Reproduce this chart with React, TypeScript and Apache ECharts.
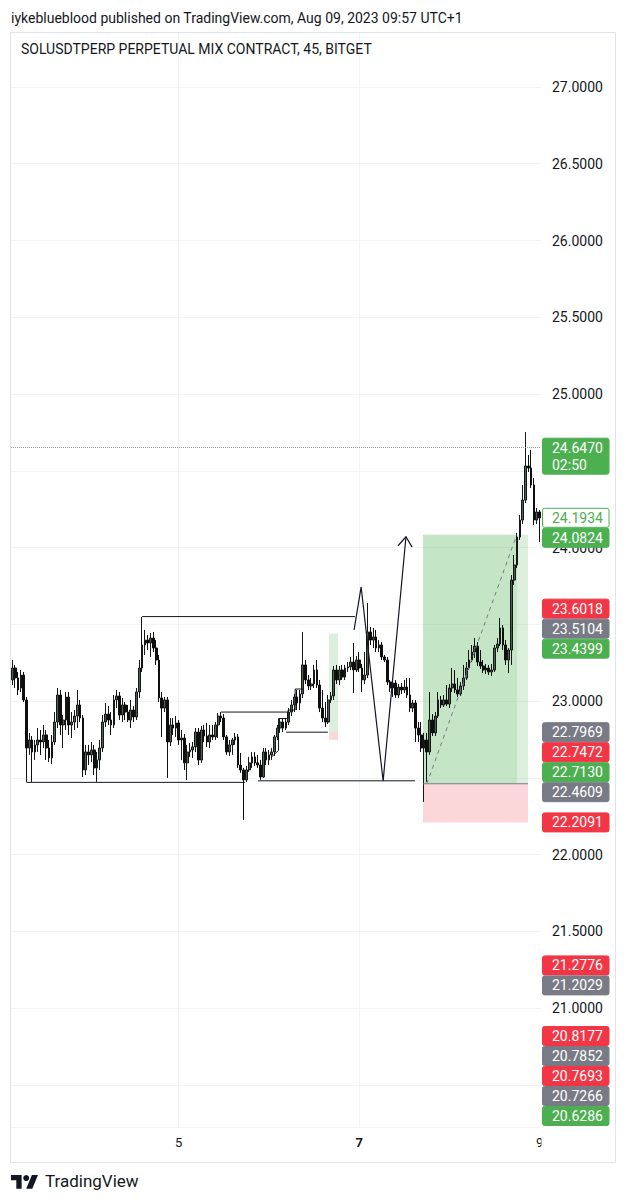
import React, { useEffect, useRef } from 'react';
import * as echarts from 'echarts';

// ---------- x categories: 45-minute candles starting Aug 3 03:45 ----------
const START_UTC = Date.UTC(2023, 7, 3, 3, 45);
const STEP_MINUTES = 45;
const CANDLE_COUNT = 188;
const categories: string[] = [];
for (let i = 0; i < CANDLE_COUNT; i++) {
  const d = new Date(START_UTC + i * STEP_MINUTES * 60000);
  categories.push(
    `Aug ${d.getUTCDate()} ${String(d.getUTCHours()).padStart(2, '0')}:${String(d.getUTCMinutes()).padStart(2, '0')}`
  );
}
const dayTickIndices = [59, 123, 187];
const dayTickLabels = ['5', '7', '9'];
const dayTickBold = [false, true, false];

// ---------- OHLC values ----------
const open = [
  23.137, 23.215, 23.150, 23.085, 23.169, 23.007, 22.694, 22.746, 22.668, 22.714,
  22.746, 22.733, 22.779, 22.694, 22.629, 22.733, 22.863, 23.039, 22.844, 22.876,
  23.026, 22.844, 22.863, 22.902, 22.974, 22.889, 22.551, 22.668, 22.649, 22.681,
  22.564, 22.616, 22.694, 22.863, 22.915, 22.876, 22.844, 23.007, 23.033, 22.909,
  22.974, 22.928, 22.876, 22.941, 22.896, 23.059, 23.215, 23.365, 23.397, 23.378,
  23.410, 23.345, 23.267, 23.020, 22.954, 23.007, 22.733, 22.844, 22.824, 22.857,
  22.746, 22.759, 22.597, 22.668, 22.681, 22.701, 22.798, 22.616, 22.811, 22.772,
  22.733, 22.779, 22.766, 22.844, 22.902, 22.889, 22.766, 22.668, 22.714, 22.746,
  22.766, 22.583, 22.551, 22.486, 22.551, 22.597, 22.636, 22.597, 22.583, 22.505,
  22.668, 22.616, 22.649, 22.668, 22.766, 22.824, 22.863, 22.824, 22.863, 22.928,
  22.974, 23.026, 22.987, 23.046, 23.235, 23.137, 23.098, 23.111, 23.202, 23.104,
  22.954, 22.889, 22.863, 23.007, 23.033, 23.202, 23.137, 23.202, 23.156, 23.215,
  23.222, 23.254, 23.202, 23.267, 23.215, 23.137, 23.169, 23.450, 23.397, 23.417,
  23.345, 23.365, 23.287, 23.267, 23.124, 23.085, 23.117, 23.039, 23.091, 23.072,
  23.091, 23.039, 22.954, 22.987, 22.824, 22.779, 22.694, 22.746, 22.668, 22.876,
  22.792, 22.902, 23.007, 22.974, 23.007, 22.980, 23.085, 23.111, 23.072, 23.046,
  23.098, 23.150, 23.215, 23.267, 23.319, 23.358, 23.254, 23.228, 23.202, 23.215,
  23.189, 23.202, 23.345, 23.371, 23.476, 23.365, 23.267, 23.332, 23.788, 23.886,
  24.068, 24.179, 24.309, 24.531, 24.518, 24.407, 24.179, 24.231,
];
const close = [
  23.215, 23.150, 23.072, 23.169, 23.007, 22.694, 22.746, 22.668, 22.714, 22.746,
  22.733, 22.779, 22.694, 22.629, 22.733, 22.863, 23.039, 22.844, 22.876, 23.026,
  22.844, 22.863, 22.902, 22.974, 22.889, 22.551, 22.668, 22.649, 22.681, 22.564,
  22.616, 22.694, 22.863, 22.915, 22.876, 22.844, 23.007, 23.033, 22.909, 22.974,
  22.928, 22.876, 22.941, 22.896, 23.059, 23.215, 23.365, 23.397, 23.378, 23.410,
  23.345, 23.267, 23.020, 22.954, 23.007, 22.733, 22.844, 22.824, 22.857, 22.746,
  22.759, 22.597, 22.668, 22.681, 22.701, 22.798, 22.616, 22.811, 22.772, 22.733,
  22.779, 22.766, 22.844, 22.902, 22.889, 22.766, 22.668, 22.714, 22.746, 22.766,
  22.583, 22.551, 22.486, 22.551, 22.597, 22.636, 22.597, 22.583, 22.505, 22.668,
  22.616, 22.649, 22.668, 22.766, 22.824, 22.863, 22.824, 22.863, 22.928, 22.974,
  23.026, 22.987, 23.046, 23.235, 23.137, 23.098, 23.111, 23.202, 23.104, 22.954,
  22.889, 22.863, 23.007, 23.033, 23.202, 23.137, 23.202, 23.156, 23.215, 23.222,
  23.254, 23.202, 23.267, 23.215, 23.137, 23.169, 23.450, 23.397, 23.417, 23.345,
  23.365, 23.287, 23.267, 23.124, 23.085, 23.117, 23.039, 23.091, 23.072, 23.091,
  23.039, 22.954, 22.987, 22.824, 22.779, 22.694, 22.746, 22.668, 22.876, 22.792,
  22.902, 23.007, 22.974, 23.007, 22.980, 23.085, 23.111, 23.072, 23.046, 23.098,
  23.150, 23.215, 23.267, 23.319, 23.358, 23.254, 23.228, 23.202, 23.215, 23.189,
  23.202, 23.345, 23.371, 23.476, 23.365, 23.267, 23.332, 23.788, 23.886, 24.068,
  24.179, 24.309, 24.531, 24.518, 24.407, 24.179, 24.231, 24.192,
];
const low = [
  23.104, 23.085, 23.039, 23.059, 22.994, 22.473, 22.649, 22.473, 22.616, 22.668,
  22.649, 22.694, 22.616, 22.603, 22.590, 22.714, 22.824, 22.779, 22.694, 22.811,
  22.779, 22.759, 22.811, 22.824, 22.863, 22.505, 22.518, 22.583, 22.603, 22.518,
  22.473, 22.551, 22.668, 22.831, 22.844, 22.779, 22.824, 22.954, 22.876, 22.863,
  22.876, 22.863, 22.824, 22.863, 22.876, 23.020, 23.189, 23.300, 23.332, 23.287,
  23.319, 23.235, 22.994, 22.766, 22.928, 22.499, 22.707, 22.779, 22.766, 22.714,
  22.616, 22.551, 22.486, 22.636, 22.629, 22.668, 22.583, 22.597, 22.733, 22.701,
  22.694, 22.746, 22.746, 22.759, 22.863, 22.746, 22.649, 22.642, 22.649, 22.714,
  22.564, 22.532, 22.226, 22.473, 22.538, 22.564, 22.577, 22.564, 22.486, 22.499,
  22.583, 22.583, 22.616, 22.642, 22.746, 22.792, 22.798, 22.811, 22.844, 22.902,
  22.928, 22.941, 22.941, 23.020, 23.111, 23.072, 23.072, 23.085, 23.085, 22.928,
  22.863, 22.831, 22.850, 22.987, 23.007, 23.111, 23.104, 23.137, 23.137, 23.189,
  23.202, 23.052, 23.189, 23.189, 23.059, 23.111, 23.150, 23.365, 23.345, 23.319,
  23.319, 23.267, 23.254, 23.104, 23.059, 23.026, 23.020, 23.020, 23.046, 23.052,
  23.020, 22.928, 22.928, 22.733, 22.733, 22.668, 22.343, 22.473, 22.649, 22.772,
  22.772, 22.889, 22.954, 22.961, 22.967, 22.954, 23.059, 23.052, 23.026, 23.033,
  23.072, 23.137, 23.202, 23.254, 23.280, 23.228, 23.209, 23.182, 23.176, 23.169,
  23.163, 23.189, 23.319, 23.358, 23.332, 23.235, 23.182, 23.235, 23.756, 23.866,
  24.049, 24.153, 24.290, 24.492, 24.388, 24.147, 24.153, 24.036,
];
const high = [
  23.267, 23.235, 23.189, 23.202, 23.189, 23.026, 22.792, 22.772, 22.746, 22.824,
  22.811, 22.844, 22.811, 22.746, 22.779, 22.928, 23.085, 23.072, 22.909, 23.059,
  23.059, 22.928, 22.941, 23.072, 23.007, 22.909, 22.714, 22.714, 22.733, 22.714,
  22.668, 22.746, 22.909, 22.987, 22.967, 22.928, 23.039, 23.072, 23.059, 23.020,
  22.994, 22.974, 23.007, 22.967, 23.085, 23.267, 23.547, 23.463, 23.430, 23.443,
  23.450, 23.397, 23.300, 23.059, 23.026, 23.026, 22.889, 22.889, 22.902, 22.876,
  22.811, 22.785, 22.714, 22.727, 22.733, 22.824, 22.824, 22.837, 22.844, 22.857,
  22.844, 22.844, 22.863, 22.922, 22.928, 22.915, 22.779, 22.746, 22.759, 22.792,
  22.785, 22.662, 22.564, 22.577, 22.636, 22.668, 22.668, 22.649, 22.616, 22.694,
  22.694, 22.681, 22.694, 22.779, 22.844, 22.889, 22.889, 22.889, 22.954, 23.007,
  23.046, 23.072, 23.072, 23.450, 23.267, 23.169, 23.150, 23.235, 23.267, 23.137,
  23.072, 22.994, 23.039, 23.059, 23.228, 23.235, 23.228, 23.235, 23.235, 23.254,
  23.287, 23.378, 23.293, 23.319, 23.241, 23.319, 23.638, 23.482, 23.476, 23.463,
  23.397, 23.384, 23.300, 23.287, 23.137, 23.137, 23.137, 23.111, 23.117, 23.137,
  23.150, 23.150, 23.007, 23.007, 22.863, 22.863, 22.792, 22.792, 23.059, 22.915,
  22.928, 23.059, 23.033, 23.039, 23.104, 23.111, 23.215, 23.202, 23.150, 23.124,
  23.235, 23.254, 23.332, 23.365, 23.410, 23.384, 23.332, 23.267, 23.241, 23.235,
  23.241, 23.365, 23.410, 23.541, 23.495, 23.397, 23.345, 23.821, 23.951, 24.095,
  24.212, 24.407, 24.752, 24.603, 24.635, 24.453, 24.257, 24.244,
];

// ---------- price axis range ----------
const Y_MIN = 20.2248;
const Y_MAX = 27.3583;
const LAST_PRICE = 24.647;

// ---------- drawings (candle index, price) ----------
const supportLines = [
  [5, 82.5, 22.47],
  [87.1, 142.8, 22.48],
];
const resistanceLine = [46, 121.5, 23.55];
const midLine = [74, 97.8, 22.928];
const miniEntryLine = [97.1, 111.9, 22.7969];
const stairPath = [
  [91.7, 22.632], [94.4, 22.678], [94.4, 22.886], [97.8, 22.886],
  [97.8, 22.941], [100.3, 22.941], [100.3, 23.078], [103.4, 23.078],
];
const zigzagPath = [
  [121.2, 23.463], [123.7, 23.743], [131.5, 22.479], [139.6, 24.07],
];
const longPosition = { left: 145.65, right: 182.9, filledTo: 179.0, entry: 22.4609, target: 24.0824, stop: 22.2091 };
const longDiagonal = [[147.0, 22.4609], [178.9, 24.0824]];
const miniPosition = { left: 112.3, right: 115.5, entry: 22.7969, target: 23.4399, stop: 22.7472 };

// ---------- price tags on the axis ----------
const tagPrices = [24.647, 24.1934, 24.0824, 23.6018, 23.5104, 23.4399, 22.7969, 22.7472, 22.713, 22.4609, 22.2091, 21.2776, 21.2029, 20.8177, 20.7852, 20.7693, 20.7266, 20.6286];
const tagKinds = ['green', 'outline', 'green', 'red', 'grey', 'green', 'grey', 'red', 'green', 'grey', 'red', 'red', 'grey', 'red', 'grey', 'red', 'grey', 'green'];
const tagSubtexts = ['02:50'];

const TV_LOGO_PATH = 'M14 22H7V11H0V4h14v18zM28 22h-8l7.5-18h8L28 22z';
echarts.graphic.registerShape('tvlogo', echarts.graphic.extendPath(TV_LOGO_PATH, {}));

const TEXT = '#131722';
const GREEN = '#4caf50';
const RED = '#f23645';
const GREY = '#787b86';
const GRID_LINE = '#f0f3fa';

function buildOption() {
  const candleData = open.map((o, i) => [o, close[i], low[i], high[i]]);
  return {
    animation: false,
    backgroundColor: '#ffffff',
    grid: { left: 11, right: 86, top: 32, bottom: 73, containLabel: false },
    xAxis: {
      type: 'category',
      data: categories,
      boundaryGap: true,
      axisLine: { show: false },
      axisTick: { show: false },
      axisLabel: {
        interval: (i: number) => dayTickIndices.includes(i),
        formatter: (_v: string, i: number) => {
          const k = dayTickIndices.indexOf(i);
          if (k < 0) return '';
          return dayTickBold[k] ? `{b|${dayTickLabels[k]}}` : dayTickLabels[k];
        },
        color: TEXT,
        fontSize: 13,
        fontFamily: 'Roboto',
        margin: 9,
        rich: { b: { fontWeight: 'bold', fontSize: 13, fontFamily: 'Roboto', color: TEXT } },
      },
      splitLine: {
        show: true,
        alignWithLabel: true,
        interval: (i: number) => i === dayTickIndices[0] || i === dayTickIndices[1],
        lineStyle: { color: GRID_LINE, width: 1 },
      },
    },
    yAxis: {
      type: 'value',
      position: 'right',
      min: Y_MIN,
      max: Y_MAX,
      splitNumber: 14,
      minInterval: 0.5,
      maxInterval: 0.5,
      scale: true,
      axisLine: { show: false },
      axisTick: { show: false },
      axisLabel: {
        showMinLabel: false,
        showMaxLabel: false,
        formatter: (v: number) => v.toFixed(4),
        color: TEXT,
        fontSize: 14,
        fontFamily: 'Roboto',
        margin: 11,
      },
      splitLine: { show: true, lineStyle: { color: GRID_LINE, width: 1 } },
    },
    series: [
      {
        type: 'candlestick',
        data: candleData,
        barWidth: 2.2,
        itemStyle: {
          color: '#4f5e52',
          color0: '#0e0e0e',
          borderColor: '#151815',
          borderColor0: '#0e0e0e',
          borderWidth: 1,
        },
        markLine: {
          silent: true,
          symbol: 'none',
          label: { show: false },
          lineStyle: { type: 'dotted', color: '#9598a1', width: 1 },
          data: [{ yAxis: LAST_PRICE }],
        },
      },
    ],
  };
}

function layoutTags(Y: (p: number) => number) {
  let prevBottom = -Infinity;
  return tagPrices.map((price, k) => {
    const sub = tagSubtexts[k];
    const py = Y(price);
    const h = sub ? 36 : 19;
    let top = sub ? py - 10 : py - 9.5;
    if (top < prevBottom + 1) top = prevBottom + 1;
    prevBottom = top + h;
    return { price, sub, top, h, kind: tagKinds[k] };
  });
}

function buildGraphics(chart: any, tags: any[]) {
  const xa = chart.convertToPixel({ xAxisIndex: 0 }, 0) as number;
  const xb = chart.convertToPixel({ xAxisIndex: 0 }, 1) as number;
  const X = (i: number) => xa + i * (xb - xa);
  const Y = (p: number) => chart.convertToPixel({ yAxisIndex: 0 }, p) as number;
  const g: any[] = [];

  const hline = (a: number, b: number, p: number, stroke: string, z = 4) =>
    g.push({ type: 'line', silent: true, z, shape: { x1: X(a), y1: Y(p), x2: X(b), y2: Y(p) }, style: { stroke, lineWidth: 1 } });
  const box = (a: number, b: number, pTop: number, pBottom: number, fill: string) =>
    g.push({ type: 'rect', silent: true, z: 1, shape: { x: X(a), y: Y(pTop), width: X(b) - X(a), height: Y(pBottom) - Y(pTop) }, style: { fill } });

  // position tools
  box(longPosition.left, longPosition.filledTo, longPosition.target, longPosition.entry, 'rgba(76,175,80,0.32)');
  box(longPosition.filledTo, longPosition.right, longPosition.target, longPosition.entry, 'rgba(76,175,80,0.2)');
  box(longPosition.left, longPosition.right, longPosition.entry, longPosition.stop, 'rgba(242,54,69,0.2)');
  hline(longPosition.left, longPosition.right, longPosition.entry, GREY, 3);
  g.push({
    type: 'line', silent: true, z: 3,
    shape: { x1: X(longDiagonal[0][0]), y1: Y(longDiagonal[0][1]), x2: X(longDiagonal[1][0]), y2: Y(longDiagonal[1][1]) },
    style: { stroke: GREY, lineWidth: 1, lineDash: [4, 4] },
  });
  box(miniPosition.left, miniPosition.right, miniPosition.target, miniPosition.entry, 'rgba(76,175,80,0.2)');
  box(miniPosition.left, miniPosition.right, miniPosition.entry, miniPosition.stop, 'rgba(242,54,69,0.2)');

  // horizontal drawings
  supportLines.forEach(([a, b, p]) => hline(a, b, p, TEXT));
  hline(resistanceLine[0], resistanceLine[1], resistanceLine[2], TEXT);
  hline(midLine[0], midLine[1], midLine[2], TEXT);
  hline(miniEntryLine[0], miniEntryLine[1], miniEntryLine[2], TEXT);

  g.push({ type: 'polyline', silent: true, z: 4, shape: { points: stairPath.map(([i, p]) => [X(i), Y(p)]) }, style: { stroke: TEXT, lineWidth: 1, fill: 'none' } });
  const zz = zigzagPath.map(([i, p]) => [X(i), Y(p)]);
  g.push({ type: 'polyline', silent: true, z: 4, shape: { points: zz }, style: { stroke: TEXT, lineWidth: 1.2, fill: 'none' } });
  // arrow head at the end of zigzag
  const tip = zz[zz.length - 1];
  const prev = zz[zz.length - 2];
  const dx = prev[0] - tip[0];
  const dy = prev[1] - tip[1];
  const len = Math.hypot(dx, dy);
  const ux = dx / len, uy = dy / len;
  const rot = (a: number) => [tip[0] + 12 * (ux * Math.cos(a) - uy * Math.sin(a)), tip[1] + 12 * (ux * Math.sin(a) + uy * Math.cos(a))];
  g.push({ type: 'polyline', silent: true, z: 4, shape: { points: [rot(Math.PI / 5), tip, rot(-Math.PI / 5)] }, style: { stroke: TEXT, lineWidth: 1.2, fill: 'none' } });

  // clip the time axis under the price scale
  g.push({ type: 'rect', silent: true, z: 10, shape: { x: X(-0.5) + 530.5, y: 1128, width: 73, height: 33 }, style: { fill: '#ffffff' } });

  // price tags
  const tagLeft = 542.5;
  const tagWidth = 66.5;
  tags.forEach((t) => {
    const fill = t.kind === 'green' ? GREEN : t.kind === 'red' ? RED : t.kind === 'grey' ? GREY : '#ffffff';
    const textColor = t.kind === 'outline' ? GREEN : '#ffffff';
    g.push({
      type: 'rect', silent: true, z: 11,
      shape: { x: tagLeft, y: t.top, width: tagWidth, height: t.h, r: 2 },
      style: { fill, stroke: t.kind === 'outline' ? GREEN : fill, lineWidth: 1 },
    });
    g.push({
      type: 'text', silent: true, z: 12, x: 552, y: t.top + 9.5,
      style: { text: t.price.toFixed(4), fill: textColor, font: '14px Roboto', textAlign: 'left', align: 'left', textVerticalAlign: 'middle', verticalAlign: 'middle' },
    });
    if (t.sub) {
      g.push({
        type: 'text', silent: true, z: 12, x: 552, y: t.top + 27,
        style: { text: t.sub, fill: textColor, font: '14px Roboto', textAlign: 'left', align: 'left', textVerticalAlign: 'middle', verticalAlign: 'middle' },
      });
    }
  });

  // frame, header, title and footer
  g.push({ type: 'rect', silent: true, z: 13, shape: { x: 10.5, y: 32.5, width: 605, height: 1130 }, style: { fill: 'none', stroke: '#e0e3eb', lineWidth: 1 } });
  g.push({
    type: 'text', silent: true, z: 13, x: 11, y: 18,
    style: { text: 'iykeblueblood published on TradingView.com, Aug 09, 2023 09:57 UTC+1', fill: TEXT, font: '14px Roboto', textAlign: 'left', align: 'left', textVerticalAlign: 'middle', verticalAlign: 'middle' },
  });
  g.push({
    type: 'text', silent: true, z: 13, x: 21, y: 49,
    style: { text: 'SOLUSDTPERP PERPETUAL MIX CONTRACT, 45, BITGET', fill: TEXT, font: '14px Roboto', textAlign: 'left', align: 'left', textVerticalAlign: 'middle', verticalAlign: 'middle' },
  });
  g.push({ type: 'tvlogo', silent: true, z: 13, x: 11, y: 1172, scaleX: 0.76, scaleY: 0.76, style: { fill: TEXT } });
  g.push({ type: 'circle', silent: true, z: 13, shape: { cx: 11 + 20 * 0.76, cy: 1172 + 8 * 0.76, r: 3 }, style: { fill: TEXT } });
  g.push({
    type: 'text', silent: true, z: 13, x: 45, y: 1181,
    style: { text: 'TradingView', fill: TEXT, font: '17px Roboto', textAlign: 'left', align: 'left', textVerticalAlign: 'middle', verticalAlign: 'middle' },
  });
  return g;
}

export default function App() {
  const ref = useRef<HTMLDivElement>(null);
  useEffect(() => {
    const el = ref.current;
    if (!el) return;
    const chart = echarts.init(el, null, { renderer: 'svg' });
    chart.setOption(buildOption() as any);
    const Y = (p: number) => chart.convertToPixel({ yAxisIndex: 0 }, p) as number;
    const tags = layoutTags(Y);
    // price-scale labels hidden behind a tag (as the price scale does)
    const covered = (v: number) => {
      const y = Y(v);
      return tags.some((t) => y >= t.top && y <= t.top + t.h);
    };
    chart.setOption({
      yAxis: { axisLabel: { formatter: (v: number) => (covered(v) ? '' : v.toFixed(4)) } },
      graphic: buildGraphics(chart, tags),
    } as any);
    return () => chart.dispose();
  }, []);
  return (
    <div
      ref={ref}
      style={{ position: 'absolute', left: 0, top: 0, width: 627, height: 1200, background: '#ffffff' }}
    />
  );
}
